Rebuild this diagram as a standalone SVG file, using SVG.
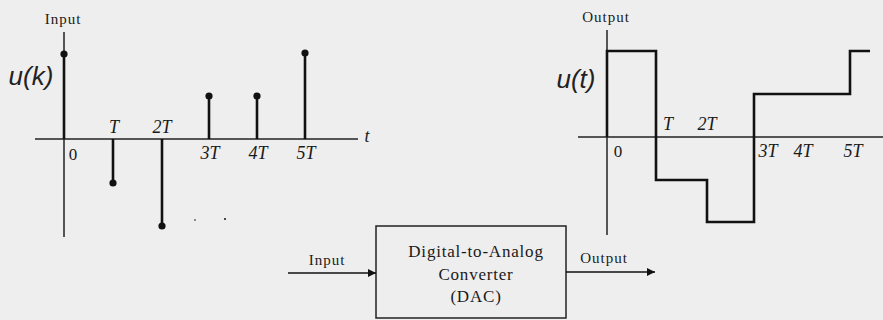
<svg xmlns="http://www.w3.org/2000/svg" width="883" height="320" viewBox="0 0 883 320">
<defs>
<marker id="arr" viewBox="0 0 10 10" refX="10" refY="5" markerWidth="11" markerHeight="8" markerUnits="userSpaceOnUse" orient="auto">
<path d="M0,0 L10,5 L0,10 z" fill="#111"/>
</marker>
<style>
.ax{stroke:#222;stroke-width:1.5;fill:none}
.stem{stroke:#111;stroke-width:2.6;fill:none}
.dot{fill:#111}
.wave{stroke:#111;stroke-width:2.6;fill:none}
.lbl{font-family:"Liberation Serif",serif;font-size:15px;letter-spacing:1px;fill:#1a1a1a;text-anchor:middle}
.tick{font-family:"Liberation Serif",serif;font-size:18px;font-style:italic;fill:#1a1a1a;text-anchor:middle}
.num{font-family:"Liberation Serif",serif;font-size:17px;fill:#1a1a1a;text-anchor:middle}
.fn{font-family:"Liberation Sans",sans-serif;font-size:26px;font-style:italic;fill:#222;text-anchor:middle}
.box{font-family:"Liberation Serif",serif;font-size:17px;letter-spacing:0.8px;fill:#1a1a1a;text-anchor:middle}
.conn{stroke:#111;stroke-width:1.5;fill:none}
</style>
</defs>
<rect width="883" height="320" fill="#eeeeee"/>

<g id="input-plot">
<line class="ax" x1="64" y1="32" x2="64" y2="237"/>
<line class="ax" x1="35" y1="139" x2="358" y2="139"/>
<text class="lbl" x="63" y="24">Input</text>
<text class="fn" x="31" y="85">u(k)</text>
<text class="tick" x="367" y="142" font-size="15">t</text>
<line class="stem" x1="64" y1="139" x2="64" y2="54"/><circle class="dot" cx="64" cy="54" r="3.6"/>
<line class="stem" x1="113" y1="139" x2="113" y2="183"/><circle class="dot" cx="113" cy="183" r="3.6"/>
<line class="stem" x1="162" y1="139" x2="162" y2="226"/><circle class="dot" cx="162" cy="226" r="3.6"/>
<line class="stem" x1="209" y1="139" x2="209" y2="96"/><circle class="dot" cx="209" cy="96" r="3.6"/>
<line class="stem" x1="257" y1="139" x2="257" y2="96"/><circle class="dot" cx="257" cy="96" r="3.6"/>
<line class="stem" x1="305" y1="139" x2="305" y2="53"/><circle class="dot" cx="305" cy="53" r="3.6"/>
<circle class="dot" cx="195" cy="220" r="0.8"/>
<circle class="dot" cx="225" cy="219" r="1"/>
<text class="num" x="73" y="160">0</text>
<text class="tick" x="114" y="133">T</text>
<text class="tick" x="162" y="133">2T</text>
<text class="tick" x="210" y="159">3T</text>
<text class="tick" x="258" y="159">4T</text>
<text class="tick" x="306" y="159">5T</text>
</g>

<g id="output-plot">
<line class="ax" x1="607" y1="30" x2="607" y2="235"/>
<line class="ax" x1="578" y1="137" x2="883" y2="137"/>
<text class="lbl" x="606" y="22">Output</text>
<text class="fn" x="576" y="88">u(t)</text>
<polyline class="wave" points="607,137 607,51 656,51 656,180 707,180 707,222 754,222 754,94 850,94 850,51 870,51"/>
<text class="num" x="618" y="157">0</text>
<text class="tick" x="668" y="130">T</text>
<text class="tick" x="707" y="130">2T</text>
<text class="tick" x="768" y="157">3T</text>
<text class="tick" x="803" y="157">4T</text>
<text class="tick" x="853" y="157">5T</text>
</g>

<g id="dac">
<rect x="376" y="226" width="190" height="92" fill="none" stroke="#222" stroke-width="1.5"/>
<text class="box" x="476" y="257">Digital-to-Analog</text>
<text class="box" x="476" y="280">Converter</text>
<text class="box" x="476" y="302">(DAC)</text>
</g>

<g id="connectors">
<line class="conn" x1="288" y1="273" x2="376" y2="273" marker-end="url(#arr)"/>
<line class="conn" x1="566" y1="272" x2="655" y2="272" marker-end="url(#arr)"/>
<text class="lbl" x="327" y="265">Input</text>
<text class="lbl" x="604" y="263">Output</text>
</g>
</svg>
